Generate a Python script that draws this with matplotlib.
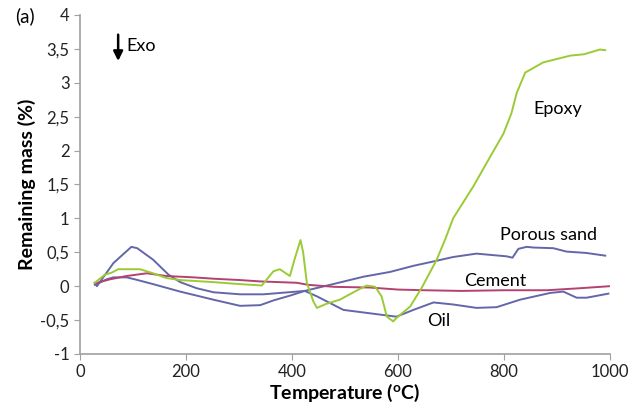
"""
Remaining mass (%) vs temperature - TGA curves for epoxy, porous sand, cement, oil.
"""
import matplotlib
matplotlib.use("Agg")
import matplotlib.pyplot as plt

# data
epoxy_t = [28, 47, 60, 72, 113, 138, 163, 189, 251, 302, 343, 365, 377, 396, 405,
           416, 421, 428, 440, 447, 465, 490, 528, 541, 557, 569, 579, 591, 597,
           623, 645, 673, 689, 704, 742, 774, 799, 814, 824, 840, 874, 925, 951,
           981, 991]
epoxy_v = [0.05, 0.17, 0.20, 0.25, 0.25, 0.19, 0.12, 0.09, 0.06, 0.03, 0.01, 0.22,
           0.25, 0.15, 0.40, 0.68, 0.50, 0.05, -0.22, -0.32, -0.26, -0.20, -0.04,
           0.01, -0.01, -0.15, -0.45, -0.52, -0.47, -0.30, -0.02, 0.39, 0.69, 1.0,
           1.47, 1.91, 2.25, 2.55, 2.85, 3.15, 3.30, 3.40, 3.42, 3.49, 3.48]

sand_t = [28, 32, 63, 97, 108, 138, 167, 189, 220, 252, 302, 346, 409, 424, 472,
          535, 585, 629, 670, 704, 748, 805, 816, 827, 843, 855, 893, 918, 955, 991]
sand_v = [0.05, 0.0, 0.34, 0.58, 0.56, 0.39, 0.17, 0.06, -0.03, -0.09, -0.12,
          -0.12, -0.08, -0.07, 0.02, 0.14, 0.21, 0.30, 0.37, 0.43, 0.48, 0.44,
          0.42, 0.55, 0.58, 0.57, 0.56, 0.51, 0.49, 0.45]

cement_t = [28, 56, 88, 126, 163, 214, 252, 302, 340, 409, 430, 480, 547, 600,
            650, 720, 800, 881, 944, 1000]
cement_v = [0.04, 0.10, 0.15, 0.19, 0.15, 0.13, 0.11, 0.09, 0.07, 0.05, 0.02,
            -0.01, -0.02, -0.05, -0.06, -0.07, -0.06, -0.06, -0.03, 0.0]

oil_t = [28, 50, 63, 88, 104, 138, 189, 252, 302, 340, 365, 396, 424, 447, 472,
         497, 547, 597, 629, 667, 704, 748, 786, 830, 887, 912, 937, 956, 997]
oil_v = [0.02, 0.10, 0.13, 0.13, 0.10, 0.03, -0.08, -0.20, -0.29, -0.28, -0.21,
         -0.14, -0.07, -0.15, -0.25, -0.35, -0.40, -0.45, -0.35, -0.24, -0.27,
         -0.32, -0.31, -0.20, -0.10, -0.08, -0.17, -0.17, -0.11]

plt.rcParams['font.family'] = ['Lato', 'DejaVu Sans']

fig = plt.figure(figsize=(6.43, 4.08), dpi=100)
ax = fig.add_axes([0.1244, 0.1324, 0.8243, 0.831])

green = '#9acb34'
blue = '#6367aa'
magenta = '#b4416f'

ax.plot(sand_t, sand_v, color=blue, lw=1.4)
ax.plot(oil_t, oil_v, color=blue, lw=1.4)
ax.plot(cement_t, cement_v, color=magenta, lw=1.4)
ax.plot(epoxy_t, epoxy_v, color=green, lw=1.4)

ax.set_xlim(0, 1000)
ax.set_ylim(-1, 4)
ax.set_xticks([0, 200, 400, 600, 800, 1000])
ax.set_yticks([-1, -0.5, 0, 0.5, 1, 1.5, 2, 2.5, 3, 3.5, 4])
ax.set_yticklabels(['-1', '-0,5', '0', '0,5', '1', '1,5', '2', '2,5', '3', '3,5', '4'])

for s in ['top', 'right']:
    ax.spines[s].set_visible(False)
for s in ['left', 'bottom']:
    ax.spines[s].set_color('#a0a0a0')
    ax.spines[s].set_linewidth(1.2)
ax.tick_params(colors='#a0a0a0', labelcolor='#222222', labelsize=12, length=4)

ax.set_xlabel('Temperature ($\\mathregular{^o}$C)', fontsize=14, fontweight='bold',
              labelpad=1)
ax.set_ylabel('Remaining mass (%)', fontsize=14, fontweight='bold', labelpad=3)

ax.text(902, 2.62, 'Epoxy', fontsize=13, ha='center', va='center')
ax.text(883, 0.76, 'Porous sand', fontsize=13, ha='center', va='center')
ax.text(783, 0.08, 'Cement', fontsize=13, ha='center', va='center')
ax.text(677, -0.51, 'Oil', fontsize=13, ha='center', va='center')

fig.text(15 / 643, 1 - 16 / 408, '(a)', fontsize=13.5, ha='left', va='center')
ax.annotate('', xy=(72, 3.28), xytext=(72, 3.75),
            arrowprops=dict(arrowstyle='-|>', lw=1.8, color='black', mutation_scale=14))
ax.text(87, 3.54, 'Exo', fontsize=13, ha='left', va='center')

plt.savefig('out.png', dpi=100)
